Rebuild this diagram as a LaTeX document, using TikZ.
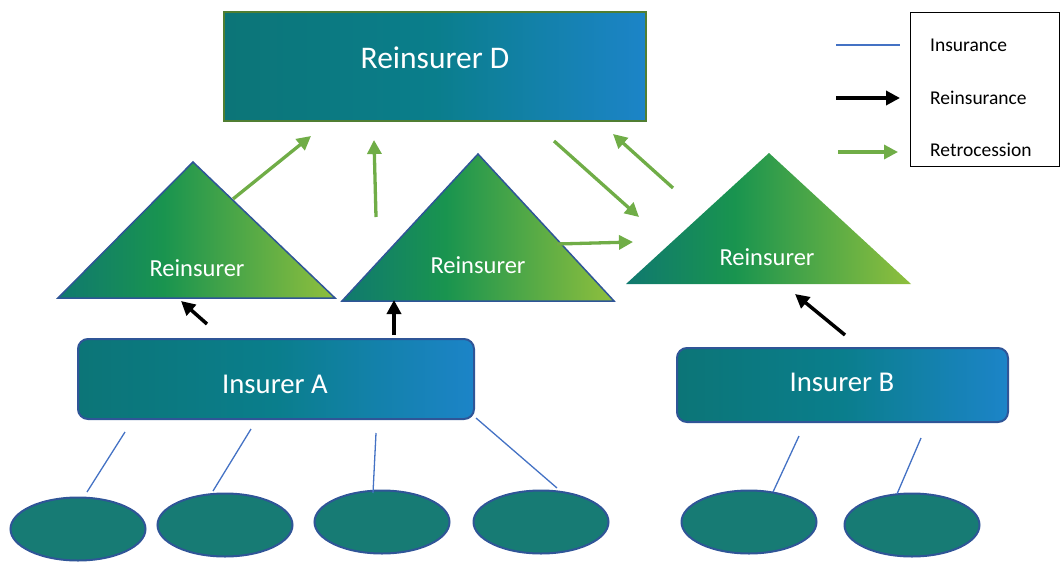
\documentclass[tikz,border=0pt]{standalone}
\usepackage{fontspec}
\setmainfont{Carlito}
\usepackage{tikz}
\usetikzlibrary{arrows.meta,shapes.geometric}
\definecolor{boxL}{HTML}{0C7577}
\definecolor{boxM}{HTML}{0A7E8C}
\definecolor{boxR}{HTML}{1C84C8}
\definecolor{triL}{HTML}{10796F}
\definecolor{triM}{HTML}{19944F}
\definecolor{triR}{HTML}{8FBF3D}
\definecolor{edgeBlue}{HTML}{2F5597}
\definecolor{edgeGreen}{HTML}{507E32}
\definecolor{insBlue}{HTML}{4472C4}
\definecolor{retroGreen}{HTML}{70AD47}
\definecolor{cliTeal}{HTML}{177B74}
\pgfdeclarehorizontalshading{reinsshade}{100bp}{color(0bp)=(triL); color(25bp)=(triL); color(44bp)=(triM); color(75bp)=(triR); color(100bp)=(triR)}
\tikzstyle{boxfill} = [left color=boxL, right color=boxR, middle color=boxM]
\tikzstyle{insurer} = [boxfill, draw=edgeBlue, line width=2pt, rounded corners=10pt, inner sep=0pt]
\tikzstyle{tri} = [shading=reinsshade, draw=edgeBlue, line width=1.5pt, line join=miter]
\tikzstyle{client} = [ellipse, draw=edgeBlue, line width=2pt, fill=cliTeal, minimum width=135pt, minimum height=63pt, inner sep=0pt]
\tikzstyle{lbl} = [text=white, inner sep=0pt]
\tikzstyle{reins} = [-{Triangle[length=14pt,width=14pt]}, line width=3.5pt]
\tikzstyle{retro} = [-{Triangle[length=14pt,width=14pt]}, line width=3.3pt, retroGreen]
\tikzstyle{ins} = [insBlue, line width=1.3pt]

\begin{document}
\begin{tikzpicture}[x=1pt,y=-1pt]
	\useasboundingbox (0,0) rectangle (1060,562);
	% top reinsurer
	\node[boxfill, draw=edgeGreen, line width=2pt, minimum width=422pt, minimum height=109pt, inner sep=0pt] (reinsD) at (435,66.5) {};
	\node[lbl, font=\fontsize{31.5}{36}\selectfont] (reinsDlbl) at (435,58) {Reinsurer D};
	% reinsurers
	\draw[tri] (58,298) -- (193,162) -- (335,298) -- cycle;
	\node[lbl, font=\fontsize{24.5}{29}\selectfont] (reins1) at (197,268) {Reinsurer};
	\draw[tri] (342,301) -- (478,154) -- (614,301) -- cycle;
	\node[lbl, font=\fontsize{24.5}{29}\selectfont] (reins2) at (478,265) {Reinsurer};
	\draw[tri, draw=none] (626,284) -- (769,153) -- (911,284) -- cycle;
	\node[lbl, font=\fontsize{24.5}{29}\selectfont] (reins3) at (767,257) {Reinsurer};
	% insurers
	\node[insurer, minimum width=396pt, minimum height=80pt] (insA) at (276,379) {};
	\node[lbl, font=\fontsize{28.7}{34}\selectfont] (insAlbl) at (275,384) {Insurer A};
	\node[insurer, minimum width=331pt, minimum height=74pt] (insB) at (842.5,385) {};
	\node[lbl, font=\fontsize{28.7}{34}\selectfont] (insBlbl) at (842,382) {Insurer B};
	% policyholders
	\node[client] (pol1) at (78,529) {};
	\node[client] (pol2) at (225,525) {};
	\node[client] (pol3) at (382,522) {};
	\node[client] (pol4) at (541,522) {};
	\node[client] (pol5) at (749,522) {};
	\node[client] (pol6) at (912,525) {};
	% insurance lines
	\coordinate (i1a) at (125,432); \coordinate (i1b) at (87,492);
	\coordinate (i2a) at (251,429); \coordinate (i2b) at (213,491);
	\coordinate (i3a) at (376,433); \coordinate (i3b) at (373,493);
	\coordinate (i4a) at (476,418); \coordinate (i4b) at (557,488);
	\coordinate (i5a) at (799,436); \coordinate (i5b) at (773,492);
	\coordinate (i6a) at (921,438); \coordinate (i6b) at (897,494);
	\draw[ins] (i1a) -- (i1b);
	\draw[ins] (i2a) -- (i2b);
	\draw[ins] (i3a) -- (i3b);
	\draw[ins] (i4a) -- (i4b);
	\draw[ins] (i5a) -- (i5b);
	\draw[ins] (i6a) -- (i6b);
	% reinsurance
	\coordinate (r1a) at (207,324); \coordinate (r1b) at (181,301);
	\coordinate (r2a) at (394,335); \coordinate (r2b) at (394,300);
	\coordinate (r3a) at (845,335); \coordinate (r3b) at (795,294);
	\draw[reins] (r1a) -- (r1b);
	\draw[reins] (r2a) -- (r2b);
	\draw[reins] (r3a) -- (r3b);
	% retrocession
	\coordinate (t1a) at (233,199); \coordinate (t1b) at (311,136);
	\coordinate (t2a) at (376,217); \coordinate (t2b) at (374,140);
	\coordinate (t3a) at (554,141); \coordinate (t3b) at (639,217);
	\coordinate (t4a) at (557,244); \coordinate (t4b) at (633,242);
	\coordinate (t5a) at (673,188); \coordinate (t5b) at (613,134);
	\draw[retro] (t1a) -- (t1b);
	\draw[retro] (t2a) -- (t2b);
	\draw[retro] (t3a) -- (t3b);
	\draw[retro] (t4a) -- (t4b);
	\draw[retro] (t5a) -- (t5b);
	% legend
	\node[draw, line width=0.8pt, minimum width=149pt, minimum height=154pt, inner sep=0pt] (legend) at (984.5,89) {};
	\node[anchor=west, inner sep=0pt, font=\fontsize{19.5}{23}\selectfont] (legIns) at (930,45) {Insurance};
	\node[anchor=west, inner sep=0pt, font=\fontsize{19.5}{23}\selectfont] (legReins) at (930,98) {Reinsurance};
	\node[anchor=west, inner sep=0pt, font=\fontsize{19.5}{23}\selectfont] (legRetro) at (930,150) {Retrocession};
	\coordinate (k1a) at (836,45); \coordinate (k1b) at (900,45);
	\coordinate (k2a) at (836,98); \coordinate (k2b) at (900,98);
	\coordinate (k3a) at (838,152); \coordinate (k3b) at (898,152);
	\draw[ins] (k1a) -- (k1b);
	\draw[reins] (k2a) -- (k2b);
	\draw[retro] (k3a) -- (k3b);
\end{tikzpicture}
\end{document}
